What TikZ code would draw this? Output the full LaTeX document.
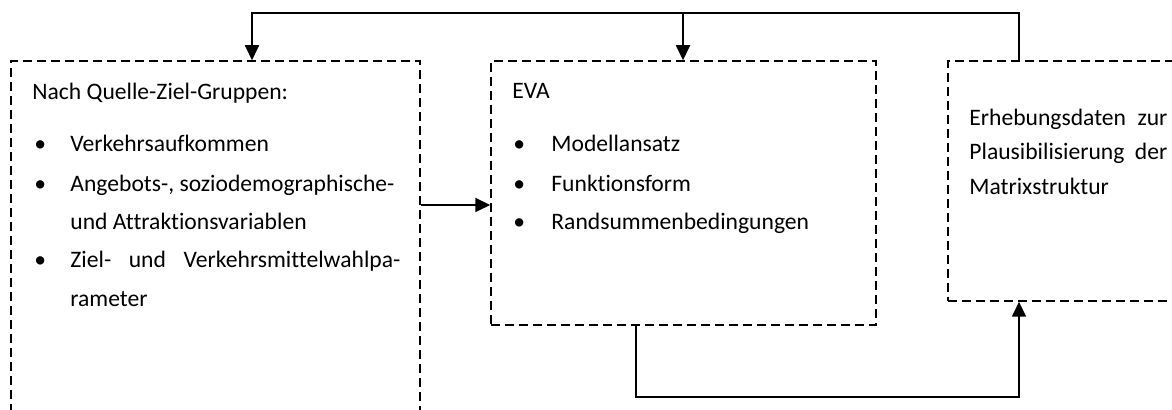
\documentclass[tikz,border=0pt]{standalone}
\usepackage{fontspec}
\setmainfont[Ligatures={NoCommon}]{Carlito}
\usetikzlibrary{arrows.meta,fit}
\begin{document}
\begin{tikzpicture}[x=0.5pt,y=-0.5pt,
  box/.style={draw, line width=0.75pt, dash pattern=on 4.5pt off 2.5pt, inner sep=0pt},
  arr/.style={line width=0.9pt, -{Triangle[length=7.5pt,width=7pt]}},
  txt/.style={anchor=base west, inner sep=0pt, font=\fontsize{11.8}{14}\selectfont},
  bul/.style={anchor=base west, inner sep=0pt, font=\fontsize{11.8}{14}\selectfont}]
\useasboundingbox (0,0) rectangle (1172,410);
\begin{scope}
\clip (0,0) rectangle (1172,410);
% boxes
\coordinate (l1) at (11,61); \coordinate (l2) at (420,440);
\node[box, fit=(l1)(l2)] (L) {};
\coordinate (m1) at (491,61); \coordinate (m2) at (876,325);
\node[box, fit=(m1)(m2)] (M) {};
\coordinate (r1) at (948,61); \coordinate (r2) at (1200,301);
\node[box, fit=(r1)(r2)] (R) {};
\end{scope}
% connectors
\coordinate (lt) at (252,13);
\coordinate (mt) at (683,13);
\coordinate (rt) at (1019,13);
\draw[arr] (R.north -| rt) -- (rt) -- (lt) -- (L.north -| lt);
\draw[arr] (mt) -- (M.north -| mt);
\coordinate (ah) at (455,205);
\draw[arr] (L.east |- ah) -- (M.west |- ah);
\coordinate (b1) at (636,397);
\coordinate (b2) at (1019,397);
\draw[arr] (M.south -| b1) |- (b2) -- (R.south -| b2);
% left text
\node[txt] (t1) at (32,100) {Nach Quelle-Ziel-Gruppen:};
\node[bul] (b11) at (34,152) {•};
\node[txt] (t2) at (70,152) {Verkehrsaufkommen};
\node[bul] (b12) at (34,192) {•};
\node[txt] (t3) at (70,192) {Angebots-, soziodemographische-};
\node[txt] (t4) at (70,230) {und Attraktionsvariablen};
\node[bul] (b13) at (34,268) {•};
\node[txt] (t5) at (70,268) {\makebox[165pt][s]{Ziel- und Verkehrsmittelwahlpa-}};
\node[txt] (t6) at (70,307) {rameter};
% middle text
\node[txt] (e1) at (512,99) {EVA};
\node[bul] (b21) at (513,152) {•};
\node[txt] (e2) at (551,152) {Modellansatz};
\node[bul] (b22) at (513,192) {•};
\node[txt] (e3) at (551,192) {Funktionsform};
\node[bul] (b23) at (513,230) {•};
\node[txt] (e4) at (551,230) {Randsummenbedingungen};
% right text
\node[txt] (r1t) at (969,126) {\makebox[99pt][s]{Erhebungsdaten zur}};
\node[txt] (r2t) at (969,160) {\makebox[99pt][s]{Plausibilisierung der}};
\node[txt] (r3t) at (969,195) {Matrixstruktur};
\end{tikzpicture}
\end{document}
